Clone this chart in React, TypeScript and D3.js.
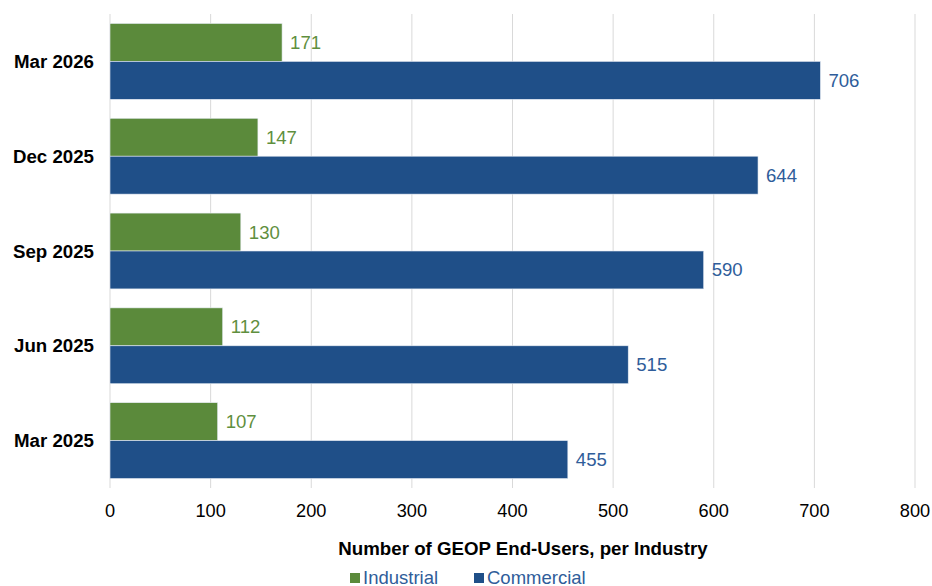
import React from "react";
import * as d3 from "d3";

const categories = ["Mar 2026", "Dec 2025", "Sep 2025", "Jun 2025", "Mar 2025"];
const industrial = [171, 147, 130, 112, 107];
const commercial = [706, 644, 590, 515, 455];
const xTicks = [0, 100, 200, 300, 400, 500, 600, 700, 800];
const seriesNames = ["Industrial", "Commercial"];

const W = 932;
const H = 586;
const left = 110;
const right = 915;
const top = 14;
const bottom = 488;
const green = "#5b8a3b";
const blue = "#1f4f88";
const greenText = "#5f8f3e";
const blueText = "#2f5d9a";
const font = "Arial, 'Liberation Sans', Helvetica, sans-serif";

export default function App() {
  const x = d3.scaleLinear().domain([0, 800]).range([left, right]);
  const y = d3.scaleBand().domain(categories).range([top, bottom]).paddingInner(0.2).paddingOuter(0.1);
  const inner = d3.scaleBand().domain(seriesNames).range([0, y.bandwidth()]);
  const series = [industrial, commercial];
  const fills = [green, blue];
  const textFills = [greenText, blueText];

  return (
    <svg width={W} height={H} style={{ position: "absolute", left: 0, top: 0, background: "#fff" }} fontFamily={font}>
      <rect width={W} height={H} fill="#fff" />
      {xTicks.map((t) => (
        <g key={t}>
          <line x1={x(t)} x2={x(t)} y1={top} y2={bottom} stroke="#d9d9d9" strokeWidth={1} />
          <text x={x(t)} y={516.5} textAnchor="middle" fontSize={18.2} fill="#000">
            {t}
          </text>
        </g>
      ))}
      {categories.map((c, i) => (
        <g key={c}>
          <text
            x={94}
            y={(y(c) as number) + y.bandwidth() / 2}
            dy="0.35em"
            textAnchor="end"
            fontSize={18.7}
            fontWeight="bold"
            fill="#000"
          >
            {c}
          </text>
          {series.map((s, k) => {
            const by = (y(c) as number) + (inner(seriesNames[k]) as number);
            const bh = inner.bandwidth();
            return (
              <g key={k}>
                <rect
                  x={x(0)}
                  y={by}
                  width={x(s[i]) - x(0)}
                  height={bh}
                  fill={fills[k]}
                  stroke="#e6ecf3"
                  strokeWidth={0.6}
                />
                <text x={x(s[i]) + 8} y={by + bh / 2} dy="0.35em" fontSize={18.6} fill={textFills[k]}>
                  {s[i]}
                </text>
              </g>
            );
          })}
        </g>
      ))}
      <text x={523} y={555} textAnchor="middle" fontSize={18.7} fontWeight="bold" fill="#000">
        Number of GEOP End-Users, per Industry
      </text>
      {seriesNames.map((n, k) => {
        const lx = k === 0 ? 350 : 474;
        return (
          <g key={n}>
            <rect x={lx} y={573} width={10} height={10} fill={fills[k]} />
            <text x={lx + 13} y={583.5} fontSize={18.5} fill={blueText}>
              {n}
            </text>
          </g>
        );
      })}
    </svg>
  );
}
